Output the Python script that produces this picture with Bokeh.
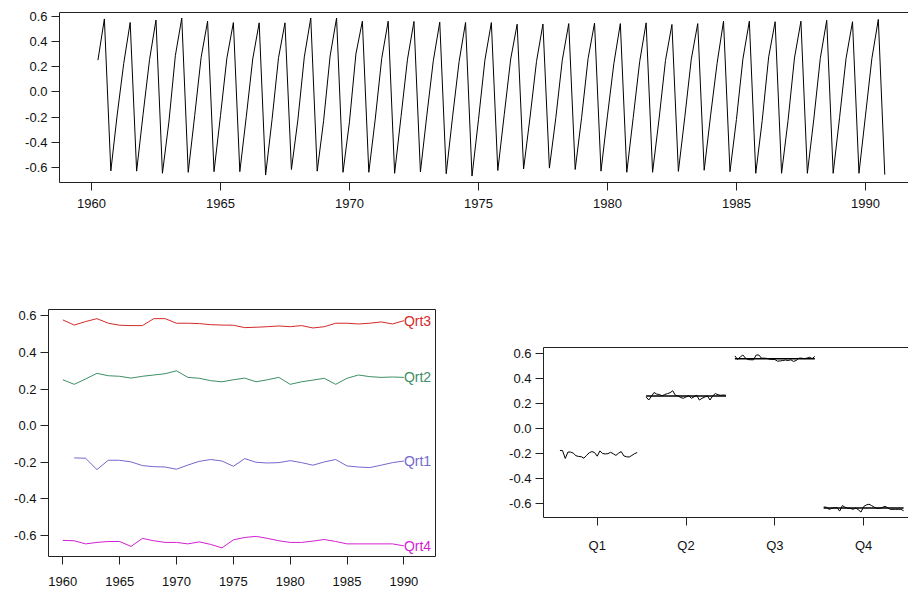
from bokeh.plotting import figure
from bokeh.layouts import column, row
from bokeh.models import FixedTicker, Range1d, Label, LinearAxis
from bokeh.embed import file_html
from bokeh.resources import INLINE

# ---- data (seasonal component, quarterly) ----
years = list(range(1960, 1991))          # Qrt2..Qrt4
years_q1 = list(range(1961, 1991))       # Qrt1 (1960 Q1 missing)
qrt1 = [-0.176, -0.178, -0.240, -0.189, -0.189, -0.198, -0.218, -0.224, -0.226, -0.238,
        -0.215, -0.195, -0.185, -0.193, -0.222, -0.180, -0.200, -0.204, -0.202, -0.191,
        -0.202, -0.216, -0.198, -0.185, -0.220, -0.226, -0.229, -0.216, -0.202, -0.193]
qrt2 = [0.251, 0.226, 0.255, 0.286, 0.273, 0.270, 0.260, 0.270, 0.277, 0.284, 0.300,
        0.264, 0.259, 0.246, 0.240, 0.251, 0.260, 0.240, 0.251, 0.264, 0.226, 0.240,
        0.249, 0.259, 0.226, 0.259, 0.277, 0.268, 0.264, 0.266, 0.264]
qrt3 = [0.578, 0.550, 0.569, 0.585, 0.560, 0.549, 0.547, 0.547, 0.585, 0.585, 0.560,
        0.560, 0.558, 0.552, 0.550, 0.549, 0.536, 0.538, 0.541, 0.545, 0.541, 0.547,
        0.534, 0.541, 0.560, 0.560, 0.556, 0.560, 0.567, 0.556, 0.574]
qrt4 = [-0.627, -0.629, -0.646, -0.638, -0.633, -0.633, -0.660, -0.616, -0.629, -0.638, -0.638,
        -0.646, -0.635, -0.649, -0.668, -0.624, -0.611, -0.605, -0.616, -0.629, -0.638, -0.638,
        -0.631, -0.622, -0.633, -0.646, -0.646, -0.646, -0.646, -0.646, -0.657]
series_names = ["Qrt1", "Qrt2", "Qrt3", "Qrt4"]
series_colors = ["#7468CC", "#3E8E66", "#D42A2A", "#D11FD1"]
quarter_labels = ["Q1", "Q2", "Q3", "Q4"]
y_ticks = [-0.6, -0.4, -0.2, 0.0, 0.2, 0.4, 0.6]
year_ticks = [1960, 1965, 1970, 1975, 1980, 1985, 1990]

FONT = "Liberation Sans"
FS = "13px"
INK = "#222222"

q_years = [years_q1, years, years, years]
q_vals = [qrt1, qrt2, qrt3, qrt4]
lookup = [dict(zip(yy, vv)) for yy, vv in zip(q_years, q_vals)]

# full quarterly series
t_all, v_all = [], []
for yr in years:
    for q in range(4):
        if yr in lookup[q]:
            t_all.append(yr + q / 4)
            v_all.append(lookup[q][yr])


def style(p, xt, open_right=False):
    p.grid.visible = False
    p.background_fill_color = "white"
    p.border_fill_color = "white"
    p.xaxis.ticker = FixedTicker(ticks=xt)
    p.yaxis.ticker = FixedTicker(ticks=y_ticks)
    p.yaxis.major_label_overrides = {t: f"{t:.1f}" for t in y_ticks}
    for ax in p.axis:
        ax.major_tick_in = 0
        ax.major_tick_out = 8
        ax.minor_tick_out = 0
        ax.minor_tick_in = 0
        ax.major_tick_line_color = INK
        ax.major_label_text_font = FONT
        ax.major_label_text_font_size = FS
        ax.major_label_text_color = "#111111"
    p.yaxis.major_label_standoff = 4
    p.xaxis.major_label_standoff = 8
    if open_right:
        # box drawn on left, bottom and top only (frame runs off the right edge)
        p.outline_line_color = None
        for ax in p.axis:
            ax.axis_line_color = INK
            ax.axis_line_width = 1
        top_ax = LinearAxis(ticker=FixedTicker(ticks=[]), axis_line_color=INK,
                            major_tick_out=0, major_tick_in=0, minor_tick_out=0,
                            minor_tick_in=0, major_label_text_font_size="0px")
        p.add_layout(top_ax, "above")
    else:
        p.outline_line_color = INK
        p.outline_line_width = 1
        for ax in p.axis:
            ax.axis_line_color = None


# ---- top: full series ----
top = figure(width=908, height=300, output_backend="svg", toolbar_location=None,
             x_range=Range1d(1958.76, 1991.67), y_range=Range1d(-0.719, 0.629),
             min_border_left=59, min_border_right=0, min_border_top=12, min_border_bottom=118)
top.line(t_all, v_all, line_color="black", line_width=1)
style(top, year_ticks, open_right=True)

# ---- bottom-left: each quarter over years ----
bl = figure(width=455, height=289, output_backend="svg", toolbar_location=None,
            x_range=Range1d(1958.74, 1992.78), y_range=Range1d(-0.715, 0.635),
            min_border_left=48, min_border_right=20, min_border_top=9, min_border_bottom=33)
for name, col, yy, vv in zip(series_names, series_colors, q_years, q_vals):
    bl.line(yy, vv, line_color=col, line_width=1)
    bl.add_layout(Label(x=yy[-1], y=vv[-1], text=name, text_color=col, text_font=FONT,
                        text_font_size="14px", text_align="left", text_baseline="middle"))
style(bl, year_ticks)
bl.xaxis.major_label_standoff = 12

# ---- bottom-right: month plot ----
br = figure(width=453, height=289, output_backend="svg", toolbar_location=None,
            x_range=Range1d(0.395, 4.505), y_range=Range1d(-0.711, 0.645),
            min_border_left=88, min_border_right=0, min_border_top=47, min_border_bottom=72)
for qi, (yy, vv) in enumerate(zip(q_years, q_vals)):
    qn = qi + 1
    xs = [qn - 0.45 + 0.9 * (y - 1960) / 30 for y in yy]
    br.line(xs, vv, line_color="black", line_width=1)
    if qi > 0:  # Q1 has a missing value -> no mean line
        m = sum(vv) / len(vv)
        br.line([qn - 0.45, qn + 0.45], [m, m], line_color="black", line_width=1.5)
style(br, [1, 2, 3, 4], open_right=True)
br.xaxis.major_label_overrides = {i + 1: lab for i, lab in enumerate(quarter_labels)}
br.xaxis.major_label_standoff = 12

layout = column(top, row(column(bl), column(br), spacing=0), spacing=0)
open("out.html", "w").write(file_html(layout, INLINE))
